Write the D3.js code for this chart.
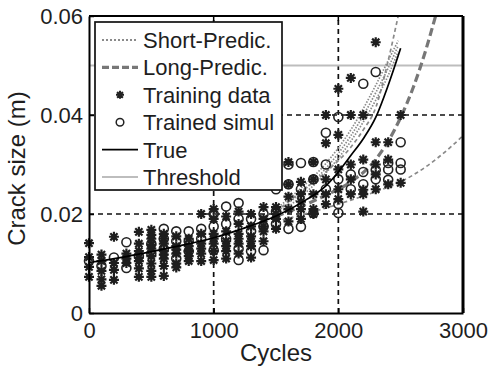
<!DOCTYPE html>
<html>
<head>
<meta charset="utf-8">
<script src="https://cdn.jsdelivr.net/npm/d3@7"></script>
<style>
  body { margin: 0; background: #fff; }
  svg text { font-family: "Liberation Sans", Arial, sans-serif; fill: #1e1e1e; }
</style>
</head>
<body>
<svg id="chart" width="491" height="369"></svg>
<script>
// measurement cycles for the scatter columns
const cycles = [0, 100, 200, 300, 400, 500, 600, 700, 800, 900, 1000, 1100, 1200,
  1300, 1400, 1500, 1600, 1700, 1800, 1900, 2000, 2100, 2200, 2300, 2400, 2500];

// training data (stars), one list per cycle column
const trainingData = [
  [0.0141, 0.0113, 0.0093, 0.0073],
  [0.0118, 0.0105, 0.0085, 0.0068, 0.0055],
  [0.0154, 0.0101, 0.0087, 0.0067],
  [0.0120, 0.0110, 0.0101],
  [0.0164, 0.0140, 0.0125, 0.0112, 0.0105, 0.0090, 0.0073],
  [0.0168, 0.0158, 0.0150, 0.0138, 0.0130, 0.0115, 0.0100, 0.0085, 0.0073],
  [0.0160, 0.0150, 0.0140, 0.0125, 0.0118, 0.0110, 0.0095, 0.0075],
  [0.0155, 0.0135, 0.0128, 0.0120, 0.0100, 0.0092],
  [0.0150, 0.0135, 0.0125, 0.0115, 0.0105],
  [0.0200, 0.0160, 0.0140, 0.0130, 0.0120, 0.0105],
  [0.0210, 0.0190, 0.0160, 0.0150, 0.0140, 0.0125, 0.0107],
  [0.0195, 0.0165, 0.0145, 0.0135, 0.0125, 0.0110],
  [0.0205, 0.0180, 0.0160, 0.0150, 0.0140, 0.0120],
  [0.0200, 0.0175, 0.0155, 0.0145, 0.0135, 0.0112],
  [0.0214, 0.0190, 0.0175, 0.0165, 0.0145],
  [0.0270, 0.0214, 0.0200, 0.0190, 0.0170],
  [0.0305, 0.0260, 0.0235, 0.0210, 0.0185],
  [0.0265, 0.0240, 0.0225, 0.0210, 0.0190],
  [0.0305, 0.0270, 0.0240, 0.0210, 0.0200],
  [0.0400, 0.0343, 0.0270, 0.0240, 0.0220],
  [0.0453, 0.0360, 0.0290, 0.0250, 0.0230],
  [0.0475, 0.0400, 0.0300, 0.0270, 0.0240],
  [0.0400, 0.0310, 0.0249, 0.0240, 0.0205],
  [0.0547, 0.0345, 0.0300, 0.0280, 0.0250],
  [0.0345, 0.0310, 0.0260],
  [0.0400, 0.0263]
];

// trained simulation (circles)
const simulData = [
  [0.0105],
  [0.0095],
  [0.0112],
  [0.0143, 0.0091],
  [0.0115],
  [0.0140, 0.0120],
  [0.0170, 0.0150, 0.0130],
  [0.0165, 0.0145, 0.0110],
  [0.0165, 0.0145, 0.0125],
  [0.0170, 0.0150],
  [0.0200, 0.0175, 0.0127],
  [0.0215, 0.0180, 0.0150],
  [0.0222, 0.0190, 0.0130, 0.0107],
  [0.0190, 0.0165, 0.0125],
  [0.0200, 0.0175, 0.0127],
  [0.0250, 0.0205, 0.0180],
  [0.0300, 0.0260, 0.0170],
  [0.0303, 0.0250, 0.0174],
  [0.0305, 0.0270, 0.0202],
  [0.0364, 0.0300, 0.0250],
  [0.0396, 0.0270, 0.0220, 0.0202],
  [0.0280, 0.0250],
  [0.0463, 0.0285, 0.0260],
  [0.0487, 0.0289, 0.0270],
  [0.0303, 0.0269, 0.0290],
  [0.0345, 0.0303, 0.0290]
];

// true crack growth
const trueCycles = [0, 250, 500, 750, 1000, 1250, 1500, 1750, 1900, 2000, 2100, 2200, 2300, 2400, 2500];
const trueCrack = [0.0102, 0.0112, 0.0124, 0.0137, 0.0152, 0.0172, 0.0196, 0.0230, 0.0257, 0.0285, 0.0318, 0.0352, 0.0395, 0.0460, 0.0535];

// short-term predictions (dotted band)
const shortCycles = [1500, 1700, 1900, 2100, 2300, 2400, 2480];
const shortPred = [
  [0.0210, 0.0252, 0.0302, 0.0370, 0.0460, 0.0510, 0.0550],
  [0.0203, 0.0243, 0.0292, 0.0358, 0.0445, 0.0495, 0.0540],
  [0.0197, 0.0235, 0.0283, 0.0347, 0.0430, 0.0480, 0.0528]
];

// long-term prediction: median and bounds
const longMedCycles = [1500, 1700, 1900, 2100, 2300, 2500, 2600, 2700, 2780];
const longMed = [0.0195, 0.0215, 0.0238, 0.0265, 0.0310, 0.0395, 0.0455, 0.0530, 0.0600];
const longUpCycles = [1500, 1700, 1900, 2100, 2200, 2300, 2400, 2480];
const longUp = [0.0205, 0.0245, 0.0285, 0.0335, 0.0370, 0.0415, 0.0510, 0.0600];
const longLowCycles = [1500, 1700, 1900, 2100, 2300, 2500, 2700, 2900, 3000];
const longLow = [0.0185, 0.0198, 0.0212, 0.0228, 0.0245, 0.0265, 0.0295, 0.0335, 0.0358];

const threshold = 0.05;
const xTicks = [0, 1000, 2000, 3000];
const yTicks = [0, 0.02, 0.04, 0.06];

const svg = d3.select("#chart");
const mLeft = 89, mRight = 463, mTop = 16, mBottom = 313;

const x = d3.scaleLinear().domain([0, 3000]).range([mLeft, mRight]);
const y = d3.scaleLinear().domain([0, 0.06]).range([mBottom, mTop]);

// grid
const grid = svg.append("g").attr("stroke", "#111").attr("stroke-width", 1.7)
  .attr("stroke-dasharray", "5,4");
[1000, 2000].forEach(v => grid.append("line")
  .attr("x1", x(v)).attr("x2", x(v)).attr("y1", y(0)).attr("y2", y(0.06)));
[0.02, 0.04].forEach(v => grid.append("line")
  .attr("x1", x(0)).attr("x2", x(3000)).attr("y1", y(v)).attr("y2", y(v)));

// threshold
svg.append("line")
  .attr("x1", x(0)).attr("x2", x(3000)).attr("y1", y(threshold)).attr("y2", y(threshold))
  .attr("stroke", "#bdbdbd").attr("stroke-width", 2);

const line = d3.line().x(d => x(d[0])).y(d => y(d[1])).curve(d3.curveMonotoneX);

// short predictions
shortPred.forEach(s => {
  svg.append("path").datum(shortCycles.map((c, i) => [c, s[i]]))
    .attr("d", line).attr("fill", "none")
    .attr("stroke", "#8a8a8a").attr("stroke-width", 1.7).attr("stroke-dasharray", "1.5,1.5");
});

// long predictions
svg.append("path").datum(longUpCycles.map((c, i) => [c, longUp[i]]))
  .attr("d", line).attr("fill", "none")
  .attr("stroke", "#8a8a8a").attr("stroke-width", 1.7).attr("stroke-dasharray", "4,3");
svg.append("path").datum(longLowCycles.map((c, i) => [c, longLow[i]]))
  .attr("d", line).attr("fill", "none")
  .attr("stroke", "#8a8a8a").attr("stroke-width", 1.7).attr("stroke-dasharray", "4,3");
svg.append("path").datum(longMedCycles.map((c, i) => [c, longMed[i]]))
  .attr("d", line).attr("fill", "none")
  .attr("stroke", "#777").attr("stroke-width", 3.2).attr("stroke-dasharray", "8,4");

// star marker (MATLAB-like '*')
function starPath(r) {
  const k = r * 0.72;
  return `M0,${-r}L0,${r}M${-r},0L${r},0M${-k},${-k}L${k},${k}M${-k},${k}L${k},${-k}`;
}

const starPts = [];
trainingData.forEach((col, i) => col.forEach(v => starPts.push([cycles[i], v])));
const circPts = [];
simulData.forEach((col, i) => col.forEach(v => circPts.push([cycles[i], v])));

svg.append("g").selectAll("circle").data(circPts).enter().append("circle")
  .attr("cx", d => x(d[0])).attr("cy", d => y(d[1])).attr("r", 4.5)
  .attr("fill", "none").attr("stroke", "#222").attr("stroke-width", 1.6);

svg.append("g").selectAll("path").data(starPts).enter().append("path")
  .attr("transform", d => `translate(${x(d[0])},${y(d[1])})`)
  .attr("d", starPath(5)).attr("fill", "none")
  .attr("stroke", "#1e1e1e").attr("stroke-width", 2.2);

// true line
svg.append("path").datum(trueCycles.map((c, i) => [c, trueCrack[i]]))
  .attr("d", line).attr("fill", "none").attr("stroke", "#000").attr("stroke-width", 1.7);

// axes
const xAxis = svg.append("g").attr("transform", `translate(0,${mBottom})`)
  .call(d3.axisBottom(x).tickValues(xTicks).tickFormat(d3.format("d"))
    .tickSizeInner(-5).tickSizeOuter(0).tickPadding(9));
const yAxis = svg.append("g").attr("transform", `translate(${mLeft},0)`)
  .call(d3.axisLeft(y).tickValues(yTicks).tickFormat(d => d === 0 ? "0" : d3.format(".2f")(d))
    .tickSizeInner(-5).tickSizeOuter(0).tickPadding(6));
[xAxis, yAxis].forEach(a => {
  a.selectAll("text").attr("font-size", 22).attr("fill", "#1e1e1e");
  a.selectAll(".tick line").attr("stroke", "#000").attr("stroke-width", 1.5);
  a.select(".domain").attr("stroke", "#000").attr("stroke-width", 2);
});

// top and right borders
svg.append("line").attr("x1", mLeft).attr("x2", mRight).attr("y1", mTop).attr("y2", mTop)
  .attr("stroke", "#000").attr("stroke-width", 2);
svg.append("line").attr("x1", mRight).attr("x2", mRight).attr("y1", mTop).attr("y2", mBottom)
  .attr("stroke", "#000").attr("stroke-width", 3);
// top ticks
xTicks.slice(1, 3).forEach(v => svg.append("line")
  .attr("x1", x(v)).attr("x2", x(v)).attr("y1", mTop).attr("y2", mTop + 5)
  .attr("stroke", "#000").attr("stroke-width", 1.5));

// axis titles
svg.append("text").attr("x", x(1500)).attr("y", 361).attr("text-anchor", "middle")
  .attr("font-size", 24).text("Cycles");
svg.append("text").attr("transform", `translate(25,${(mTop + mBottom) / 2 + 4}) rotate(-90)`)
  .attr("text-anchor", "middle").attr("font-size", 24).text("Crack size (m)");

// legend
const lg = svg.append("g");
lg.append("rect").attr("x", 95).attr("y", 22).attr("width", 187).attr("height", 168)
  .attr("fill", "#fff").attr("stroke", "#111").attr("stroke-width", 1.7);
const legendItems = ["Short-Predic.", "Long-Predic.", "Training data", "Trained simul", "True", "Threshold"];
legendItems.forEach((name, i) => {
  const ly = 40 + i * 27.4;
  const g = lg.append("g");
  if (i === 0) g.append("line").attr("x1", 102).attr("x2", 138).attr("y1", ly).attr("y2", ly)
    .attr("stroke", "#8a8a8a").attr("stroke-width", 1.8).attr("stroke-dasharray", "2,2");
  if (i === 1) g.append("line").attr("x1", 102).attr("x2", 138).attr("y1", ly).attr("y2", ly)
    .attr("stroke", "#777").attr("stroke-width", 3.2).attr("stroke-dasharray", "7,3");
  if (i === 2) g.append("path").attr("transform", `translate(120,${ly})`).attr("d", starPath(4))
    .attr("stroke", "#222").attr("stroke-width", 2);
  if (i === 3) g.append("circle").attr("cx", 120).attr("cy", ly).attr("r", 3.8)
    .attr("fill", "none").attr("stroke", "#222").attr("stroke-width", 1.5);
  if (i === 4) g.append("line").attr("x1", 102).attr("x2", 138).attr("y1", ly).attr("y2", ly)
    .attr("stroke", "#000").attr("stroke-width", 1.7);
  if (i === 5) g.append("line").attr("x1", 102).attr("x2", 138).attr("y1", ly).attr("y2", ly)
    .attr("stroke", "#bdbdbd").attr("stroke-width", 2);
  g.append("text").attr("x", 143).attr("y", ly + 8).attr("font-size", 22).text(name);
});
</script>
</body>
</html>
